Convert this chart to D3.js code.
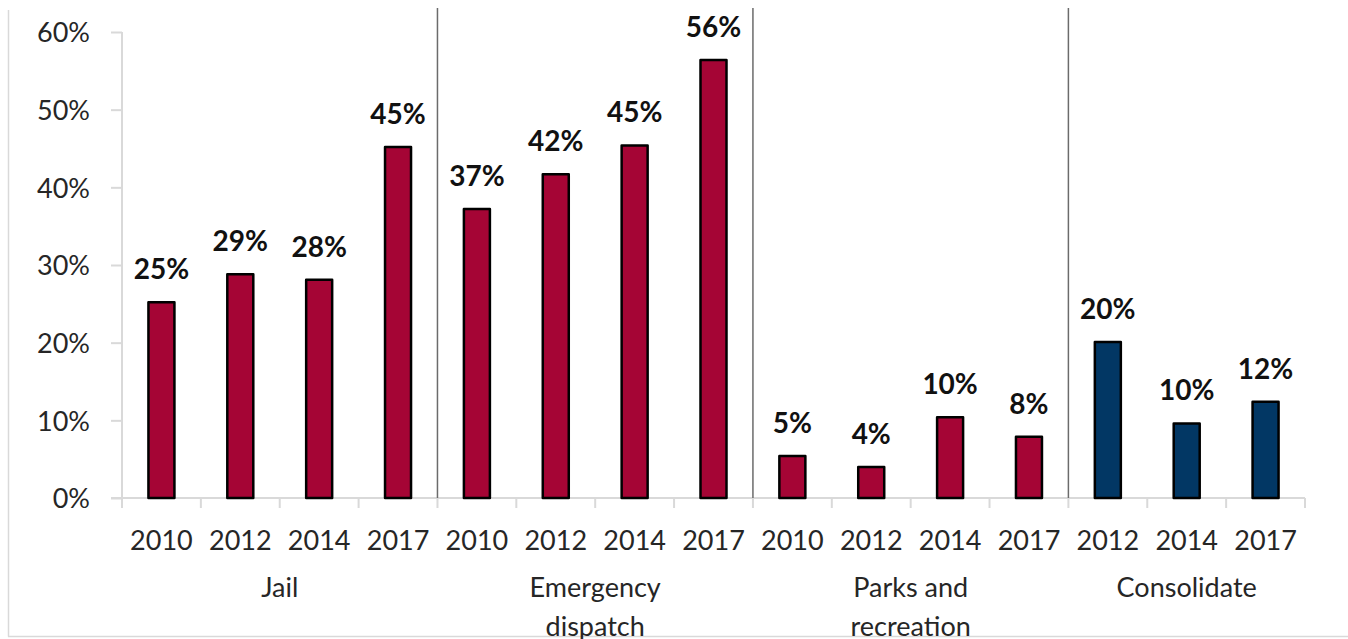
<!DOCTYPE html>
<html>
<head>
<meta charset="utf-8">
<script src="https://cdn.jsdelivr.net/npm/d3@7"></script>
<style>
  html, body { margin: 0; padding: 0; background: #fff; }
  svg { display: block; font-family: Lato, "Open Sans", sans-serif; }
</style>
</head>
<body>
<svg id="chart" width="1348" height="639"></svg>
<script>
// Share of respondents by service area and survey year
const groupNames = ["Jail", "Emergency dispatch", "Parks and recreation", "Consolidate"];
const groupYears = [
  ["2010", "2012", "2014", "2017"],
  ["2010", "2012", "2014", "2017"],
  ["2010", "2012", "2014", "2017"],
  ["2012", "2014", "2017"]
];
const jail = [0.252, 0.288, 0.281, 0.452];
const emergencyDispatch = [0.372, 0.417, 0.454, 0.564];
const parksRecreation = [0.054, 0.040, 0.104, 0.079];
const consolidate = [0.201, 0.096, 0.124];
const groupValues = [jail, emergencyDispatch, parksRecreation, consolidate];
const groupColors = ["#a50535", "#a50535", "#a50535", "#023764"];
const yTicks = [0, 0.1, 0.2, 0.3, 0.4, 0.5, 0.6];

// Flatten into one row per bar
const rows = [];
groupNames.forEach((g, gi) => {
  groupYears[gi].forEach((yr, i) => {
    rows.push({ key: g + "|" + yr, group: g, gi, year: yr, value: groupValues[gi][i], color: groupColors[gi] });
  });
});

const svg = d3.select("#chart");
const plotLeft = 122, plotRight = 1305, plotTop = 32, plotBottom = 498;
const textColor = "#262626";
const axisColor = "#d9d9d9";

const x = d3.scaleBand().domain(rows.map(d => d.key)).range([plotLeft, plotRight]).paddingInner(0).paddingOuter(0);
const y = d3.scaleLinear().domain([0, 0.6]).range([plotBottom, plotTop]);
const pct = d3.format(".0%");

// Outer frame (left and bottom edges)
svg.append("line").attr("x1", 8.5).attr("x2", 8.5).attr("y1", 10).attr("y2", 636.5)
  .attr("stroke", axisColor).attr("stroke-width", 1.5);
svg.append("line").attr("x1", 8).attr("x2", 1348).attr("y1", 636.5).attr("y2", 636.5)
  .attr("stroke", axisColor).attr("stroke-width", 1.5);

// Y axis
const yAxis = svg.append("g").attr("transform", `translate(${plotLeft},0)`)
  .call(d3.axisLeft(y).tickValues(yTicks).tickFormat(pct).tickSize(11).tickPadding(21));
yAxis.select(".domain").attr("stroke", axisColor).attr("stroke-width", 2)
  .attr("d", `M0,${plotTop}V${plotBottom}`);
yAxis.selectAll(".tick line").attr("stroke", axisColor).attr("stroke-width", 2);
yAxis.selectAll(".tick text").attr("fill", textColor).style("font-size", "27px")
  .style("font-family", "Lato, sans-serif").attr("dy", "0.36em");

// X axis line and category boundary ticks
svg.append("line").attr("x1", plotLeft - 11).attr("x2", plotRight).attr("y1", plotBottom).attr("y2", plotBottom)
  .attr("stroke", axisColor).attr("stroke-width", 2);
const boundaries = rows.map(d => x(d.key)).concat([x(rows[rows.length - 1].key) + x.bandwidth()]);
svg.append("g").selectAll("line").data(boundaries).join("line")
  .attr("x1", d => d).attr("x2", d => d).attr("y1", plotBottom).attr("y2", plotBottom + 10)
  .attr("stroke", axisColor).attr("stroke-width", 2);

// Year labels
const xAxis = svg.append("g").attr("transform", `translate(0,${plotBottom})`)
  .call(d3.axisBottom(x).tickSize(0).tickPadding(33).tickFormat(k => k.split("|")[1]));
xAxis.select(".domain").remove();
xAxis.selectAll(".tick text").attr("fill", textColor).style("font-size", "27px")
  .style("font-family", "Lato, sans-serif");

// Group separators
const groupStarts = groupNames.map(g => x(rows.find(r => r.group === g).key));
svg.append("g").selectAll("line").data(groupStarts.slice(1)).join("line")
  .attr("x1", d => d).attr("x2", d => d).attr("y1", 8).attr("y2", plotBottom)
  .attr("stroke", "#6b6b6b").attr("stroke-width", 1.5);

// Group labels (wrapped)
const groupEnds = groupStarts.slice(1).concat([plotRight]);
const gl = svg.append("g").selectAll("text").data(groupNames).join("text")
  .attr("x", (d, i) => (groupStarts[i] + groupEnds[i]) / 2)
  .attr("y", 597)
  .attr("text-anchor", "middle")
  .attr("fill", textColor)
  .style("font-size", "27px");
gl.each(function (d) {
  const words = d.split(" ");
  const lines = [];
  let cur = "";
  words.forEach(w => {
    const t = cur ? cur + " " + w : w;
    if (t.length > 12 && cur) { lines.push(cur); cur = w; } else cur = t;
  });
  lines.push(cur);
  const el = d3.select(this);
  lines.forEach((ln, i) => {
    el.append("tspan").attr("x", el.attr("x")).attr("dy", i === 0 ? 0 : 39).text(ln);
  });
});

// Bars
const bw = 26;
svg.append("g").selectAll("rect").data(rows).join("rect")
  .attr("x", d => x(d.key) + x.bandwidth() / 2 - bw / 2)
  .attr("y", d => y(d.value))
  .attr("width", bw)
  .attr("height", d => y(0) - y(d.value))
  .attr("fill", d => d.color)
  .attr("stroke", "#000")
  .attr("stroke-width", 2.5)
  .attr("stroke-linejoin", "round");

// Value labels
svg.append("g").selectAll("text").data(rows).join("text")
  .attr("x", d => x(d.key) + x.bandwidth() / 2)
  .attr("y", d => y(d.value) - 23)
  .attr("text-anchor", "middle")
  .attr("fill", "#111")
  .style("font-size", "28px")
  .style("font-weight", "bold")
  .text(d => pct(d.value));
</script>
</body>
</html>
